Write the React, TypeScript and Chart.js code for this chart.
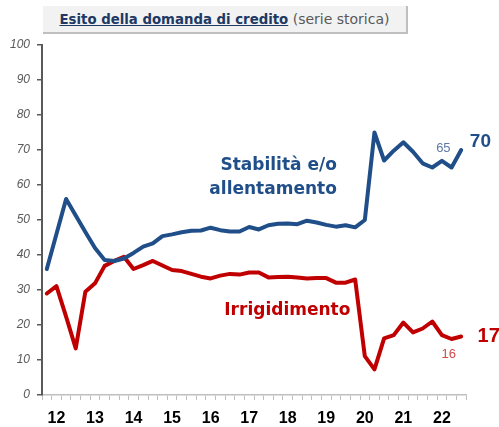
import React, { useEffect, useRef } from "react";
import { Chart, registerables } from "chart.js";

Chart.register(...registerables);

const years = ["12", "13", "14", "15", "16", "17", "18", "19", "20", "21", "22"];
const quarters = ["Q1", "Q2", "Q3", "Q4"];
const categories: string[] = years.flatMap((y) => quarters.map((q) => y + q));

const stabilita = [
  36, 46, 56, 51.3, 46.6, 42, 38.6, 38.3, 39, 40.6, 42.4, 43.3, 45.4, 45.9, 46.5, 46.9,
  47, 47.8, 47.1, 46.7, 46.7, 48, 47.3, 48.5, 48.9, 49, 48.8, 49.8, 49.3, 48.6, 48.1,
  48.5, 47.9, 50, 75, 67, 69.8, 72.2, 69.5, 66.2, 65, 66.9, 65, 70,
];
const irrigidimento = [
  29, 31.1, 22.4, 13.3, 29.5, 31.9, 36.9, 38.3, 39.5, 36, 37.1, 38.3, 37, 35.7, 35.4,
  34.6, 33.8, 33.3, 34.1, 34.6, 34.4, 35, 35, 33.6, 33.7, 33.8, 33.6, 33.3, 33.4, 33.4,
  32.1, 32.1, 33, 11.1, 7.3, 16.2, 17.1, 20.7, 17.9, 19, 21, 17.1, 16, 16.7,
];
const yTicks = [0, 10, 20, 30, 40, 50, 60, 70, 80, 90, 100];

const BLUE = "#1f4e89";
const RED = "#c00000";

type Note = {
  text: string;
  idx: number;
  val: number;
  color: string;
  font: string;
  align: CanvasTextAlign;
};

const notes: Note[] = [
  { text: "Stabilità e/o", idx: 30.1, val: 64.3, color: BLUE, font: "bold 17px 'DejaVu Sans'", align: "right" },
  { text: "allentamento", idx: 30.1, val: 57.4, color: BLUE, font: "bold 17px 'DejaVu Sans'", align: "right" },
  { text: "Irrigidimento", idx: 31.5, val: 22.9, color: RED, font: "bold 17px 'DejaVu Sans'", align: "right" },
  { text: "70", idx: 43.9, val: 71, color: BLUE, font: "bold 19px 'Liberation Sans'", align: "left" },
  { text: "17", idx: 44.7, val: 15.2, color: RED, font: "bold 20px 'Liberation Sans'", align: "left" },
  { text: "65", idx: 40.4, val: 69.5, color: "#5f78a3", font: "13px 'Liberation Sans'", align: "left" },
  { text: "16", idx: 40.97, val: 10.6, color: "#cf4a4a", font: "13px 'Liberation Sans'", align: "left" },
];

const notesPlugin = {
  id: "notes",
  afterDatasetsDraw(chart: any) {
    const { ctx, scales } = chart;
    const xs = scales.x;
    const ys = scales.y;
    const x0 = xs.getPixelForValue(0);
    const step = xs.getPixelForValue(1) - x0;
    ctx.save();
    for (const n of notes) {
      ctx.font = n.font;
      ctx.fillStyle = n.color;
      ctx.textAlign = n.align;
      ctx.textBaseline = "alphabetic";
      ctx.fillText(n.text, x0 + n.idx * step, ys.getPixelForValue(n.val));
    }
    ctx.restore();
  },
};

export default function App() {
  const ref = useRef<HTMLCanvasElement>(null);

  useEffect(() => {
    if (!ref.current) return;
    const chart = new Chart(ref.current, {
      type: "line",
      data: {
        labels: categories,
        datasets: [
          {
            label: "Stabilità e/o allentamento",
            data: stabilita,
            borderColor: BLUE,
            borderWidth: 4,
            pointRadius: 0,
            tension: 0,
            borderJoinStyle: "round",
            borderCapStyle: "round",
          },
          {
            label: "Irrigidimento",
            data: irrigidimento,
            borderColor: RED,
            borderWidth: 4,
            pointRadius: 0,
            tension: 0,
            borderJoinStyle: "round",
            borderCapStyle: "round",
          },
        ],
      },
      options: {
        animation: false,
        responsive: false,
        devicePixelRatio: 1,
        layout: { padding: { left: 0, right: 33, top: 45, bottom: 0 } },
        plugins: { legend: { display: false }, tooltip: { enabled: false } },
        scales: {
          x: {
            type: "category",
            offset: true,
            grid: { offset: true, drawOnChartArea: false, tickLength: 5, color: "#bfbfbf", lineWidth: 1 },
            border: { color: "#bfbfbf", width: 1.5 },
            ticks: {
              autoSkip: false,
              maxRotation: 0,
              padding: 9,
              color: "#000000",
              font: { family: "'Liberation Sans'", size: 16, weight: "bold" },
              callback: (_v: any, i: number) => (i % 4 === 1 ? years[Math.floor(i / 4)] : ""),
            },
            afterFit: (s: any) => {
              s.height = 32;
            },
          },
          y: {
            min: 0,
            max: 100,
            afterBuildTicks: (s: any) => {
              s.ticks = yTicks.map((v) => ({ value: v }));
            },
            grid: { drawOnChartArea: false, tickLength: 5, color: "#595959", lineWidth: 1.5 },
            border: { color: "#595959", width: 2 },
            ticks: {
              padding: 7,
              color: "#595959",
              font: { family: "'Liberation Sans'", size: 12, style: "italic" },
            },
            afterFit: (s: any) => {
              s.width = 42;
            },
          },
        },
      },
      plugins: [notesPlugin],
    });
    return () => chart.destroy();
  }, []);

  return (
    <div style={{ position: "absolute", left: 0, top: 0, width: 499, height: 427, background: "#fff" }}>
      <canvas ref={ref} width={499} height={427} style={{ position: "absolute", left: 0, top: 0, width: 499, height: 427 }} />
      <div
        style={{
          position: "absolute",
          left: 43,
          top: 6,
          width: 363,
          height: 26,
          background: "#f2f2f2",
          borderRight: "2px solid #bfbfbf",
          borderBottom: "2px solid #bfbfbf",
          textAlign: "center",
          lineHeight: "26px",
          fontFamily: "'DejaVu Sans'",
          whiteSpace: "nowrap",
        }}
      >
        <span style={{ fontWeight: "bold", fontSize: 13.3, color: "#203864", textDecoration: "underline" }}>
          Esito della domanda di credito
        </span>
        <span style={{ fontSize: 14, color: "#595959" }}> (serie storica)</span>
      </div>
    </div>
  );
}
